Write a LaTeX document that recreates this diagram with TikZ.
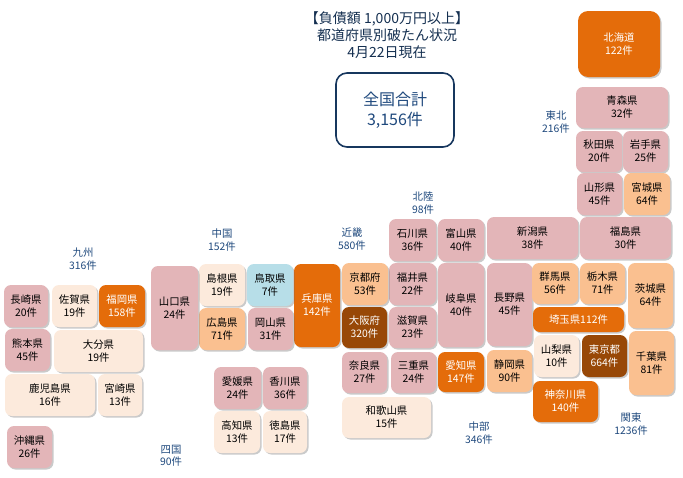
\documentclass[tikz,border=0pt]{standalone}
\usepackage{fontspec}
\setmainfont{Noto Sans CJK JP}
\usepackage{xcolor}
\usetikzlibrary{shadows}
\definecolor{prefpinkc}{HTML}{E3B5B8}
\definecolor{prefpeachc}{HTML}{FCEADC}
\definecolor{preftanc}{HTML}{FAC090}
\definecolor{preforangec}{HTML}{E46C0A}
\definecolor{prefbrownc}{HTML}{984807}
\definecolor{prefbluec}{HTML}{B7DEE8}
\definecolor{navyc}{HTML}{1F497D}
\definecolor{boxlinec}{HTML}{17375E}
\tikzset{
  pref/.style={rounded corners=7pt,inner sep=0pt,align=center,
    font=\fontsize{10.4}{13}\selectfont,text=black,
    drop shadow={shadow xshift=1.5pt,shadow yshift=-1.5pt,opacity=0.35,fill=black!60}},
  prefpink/.style={pref,fill=prefpinkc},
  prefpeach/.style={pref,fill=prefpeachc},
  preftan/.style={pref,fill=preftanc},
  preforange/.style={pref,fill=preforangec,text=white},
  prefbrown/.style={pref,fill=prefbrownc,text=white},
  prefblue/.style={pref,fill=prefbluec},
  area/.style={align=center,inner sep=0pt,text=navyc,font=\fontsize{10.4}{12.5}\selectfont}
}
\begin{document}
\begin{tikzpicture}[x=1pt,y=-1pt]
\useasboundingbox (0,0) rectangle (683,477);
% prefectures: name / left / top / width / height / style / text / count
\foreach \id/\x/\y/\w/\h/\kind/\pname/\num in {
  aomori/576/87/92/41/prefpink/青森県/32,
  akita/576/131/46/41/prefpink/秋田県/20,
  iwate/623/131/45/41/prefpink/岩手県/25,
  yamagata/577/173/45/42/prefpink/山形県/45,
  miyagi/624/173/46/42/preftan/宮城県/64,
  niigata/487/217/91/42/prefpink/新潟県/38,
  fukushima/580/217/91/42/prefpink/福島県/30,
  ishikawa/389/219/47/42/prefpink/石川県/36,
  toyama/438/219/46/42/prefpink/富山県/40,
  fukui/389/263/47/42/prefpink/福井県/22,
  gifu/438/263/46/84/prefpink/岐阜県/40,
  nagano/487/263/45/83/prefpink/長野県/45,
  gunma/532/263/46/41/preftan/群馬県/56,
  tochigi/580/263/45/41/preftan/栃木県/71,
  ibaraki/628/263/45/65/preftan/茨城県/64,
  yamanashi/534/335/45/42/prefpeach/山梨県/10,
  tokyo/582/335/45/42/prefbrown/東京都/664,
  chiba/629/331/45/64/preftan/千葉県/81,
  kanagawa/533/381/65/41/preforange/神奈川県/140,
  shizuoka/487/350/45/42/preftan/静岡県/90,
  aichi/438/352/46/40/preforange/愛知県/147,
  mie/391/352/45/41/prefpink/三重県/24,
  shiga/389/307/47/41/prefpink/滋賀県/23,
  kyoto/342/263/46/42/preftan/京都府/53,
  osaka/342/307/45/41/prefbrown/大阪府/320,
  nara/342/352/45/41/prefpink/奈良県/27,
  wakayama/342/397/89/41/prefpeach/和歌山県/15,
  hyogo/294/264/46/83/preforange/兵庫県/142,
  tottori/247/264/46/42/prefblue/鳥取県/7,
  shimane/199/264/46/42/prefpeach/島根県/19,
  okayama/248/308/45/42/prefpink/岡山県/31,
  hiroshima/199/308/46/42/preftan/広島県/71,
  yamaguchi/151/266/47/84/prefpink/山口県/24,
  ehime/214/367/47/42/prefpink/愛媛県/24,
  kagawa/263/367/44/42/prefpink/香川県/36,
  kochi/214/411/46/42/prefpeach/高知県/13,
  tokushima/263/411/44/42/prefpeach/徳島県/17,
  nagasaki/4/285/44/42/prefpink/長崎県/20,
  saga/52/285/45/42/prefpeach/佐賀県/19,
  fukuoka/99/285/46/42/preforange/福岡県/158,
  kumamoto/5/329/45/42/prefpink/熊本県/45,
  oita/54/330/89/42/prefpeach/大分県/19,
  kagoshima/5/374/90/42/prefpeach/鹿児島県/16,
  miyazaki/98/374/44/42/prefpeach/宮崎県/13,
  okinawa/7/426/45/42/prefpink/沖縄県/26} {
    \node[\kind,minimum width=\w pt,minimum height=\h pt] (\id) at (\x+\w/2,\y+\h/2) {\pname\\\num 件};
}
\node[preforange,rounded corners=10pt,minimum width=82pt,minimum height=66pt] (hokkaido) at (619,44) {北海道\\122件};
\node[preforange,minimum width=91pt,minimum height=25pt] (saitama) at (578.5,319.5) {埼玉県112件};
% region totals
\foreach \id/\x/\y/\rname/\num in {
  tohoku/556/122/東北/216,
  hokuriku/423/203/北陸/98,
  kinki/352/239/近畿/580,
  chugoku/222/240/中国/152,
  kyushu/83/259/九州/316,
  shikoku/171/456/四国/90,
  chubu/479/433/中部/346,
  kanto/631/424/関東/1236} {
    \node[area] (\id) at (\x,\y) {\rname\\\num 件};
}
\node[align=center,inner sep=0pt,text=boxlinec!85!black,font=\fontsize{14}{17}\selectfont] (title) at (387,35)
  {【負債額 1,000万円以上】\\都道府県別破たん状況\\4月22日現在};
\node[draw=boxlinec,line width=1.6pt,rounded corners=11pt,minimum width=118pt,minimum height=74pt,
  align=center,inner sep=0pt,text=navyc,font=\fontsize{16}{20}\selectfont] (total) at (395,110)
  {全国合計\\3,156件};
\end{tikzpicture}
\end{document}
